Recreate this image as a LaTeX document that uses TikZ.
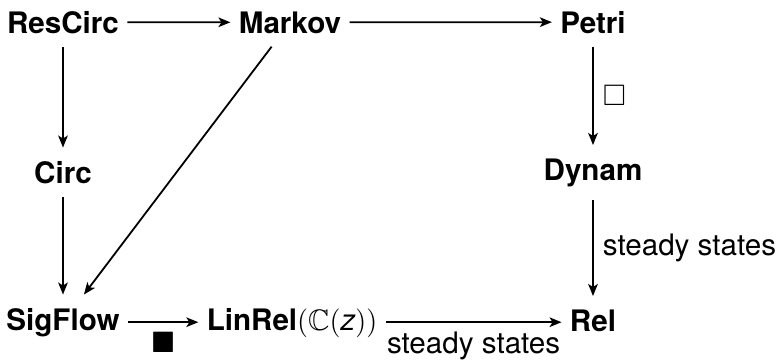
\documentclass[tikz,border=0pt]{standalone}
\usepackage{amssymb}
\usepackage{fontspec}
\setmainfont{TeX Gyre Heros}
\usetikzlibrary{arrows.meta}

\begin{document}
\begin{tikzpicture}[x=0.5pt,y=0.5pt,
    obj/.style={font=\fontsize{14.8}{17}\selectfont\bfseries, anchor=base, inner xsep=4pt, inner ysep=6.5pt},
    lbl/.style={font=\fontsize{14.8}{17}\selectfont, inner sep=4.5pt},
    map/.style={black, line width=0.9pt, -{Stealth[length=6pt,width=4.8pt,inset=1.5pt]}}]
    \useasboundingbox (0,0) rectangle (778,-360);
    % objects
    \node[obj] (rescirc) at (63,-33) {ResCirc};
    \node[obj] (markov) at (290,-33) {Markov};
    \node[obj] (petri) at (593,-33) {Petri};
    \node[obj] (circ) at (63,-183) {Circ};
    \node[obj] (dynam) at (593,-180) {Dynam};
    \node[obj] (sigflow) at (63,-330) {SigFlow};
    \node[obj] (linrel) at (292,-330) {LinRel\mdseries$(\mathbb{C}(\mathit{z}))$};
    \node[obj] (rel) at (593,-331) {Rel};
    % morphisms
    \draw[map] (rescirc) -- (markov);
    \draw[map] (markov) -- (petri);
    \draw[map] (rescirc) -- (circ);
    \draw[map] (circ) -- (sigflow);
    \draw[map] (markov) -- (sigflow);
    \draw[map] (petri) -- node[lbl, right] {$\square$} (dynam);
    \draw[map] (dynam) -- node[lbl, right] {steady states} (rel);
    \draw[map] (sigflow) -- node[lbl, below] {$\blacksquare$} (sigflow -| linrel.west);
    \draw[map] (linrel.east |- sigflow) -- node[lbl, below] {steady states} (rel.west |- sigflow);
\end{tikzpicture}
\end{document}
